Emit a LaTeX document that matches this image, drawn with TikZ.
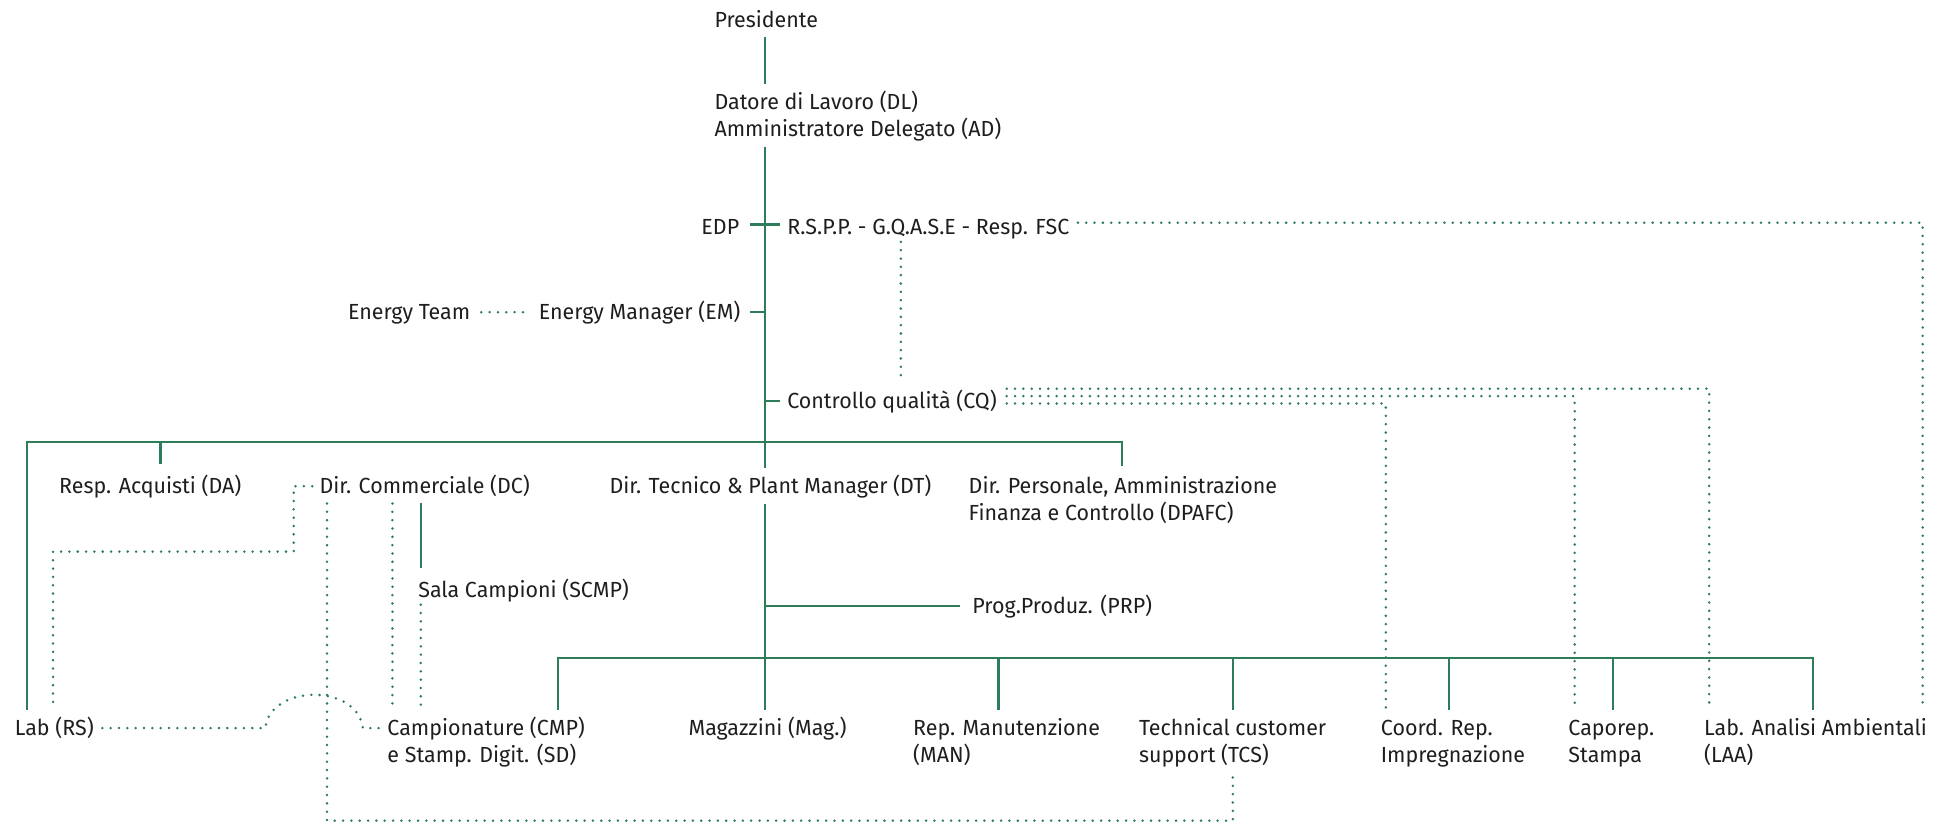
\documentclass[tikz,border=0pt]{standalone}
\usepackage{fontspec}
\setmainfont{Fira Sans}[FakeStretch=0.98]
\usetikzlibrary{calc}
\definecolor{orggreen}{RGB}{46,125,90}
\definecolor{orgtext}{RGB}{30,30,30}

\tikzset{
  unit/.style={anchor=base west, inner sep=0pt, outer sep=0pt, align=left,
    font=\fontsize{12.6}{15.6}\selectfont, text=orgtext},
  orgline/.style={draw=orggreen, line width=1.4pt},
  dotline/.style={draw=orggreen, line width=1.6pt, line cap=round,
    dash pattern=on 0pt off 4.8pt},
}

\begin{document}
\begin{tikzpicture}[x=0.025cm, y=-0.025cm]
\useasboundingbox (0,0) rectangle (1568,668);

% guide coordinates
\coordinate (T) at (620,0);
\coordinate (xQ) at (730,0);
\coordinate (xR) at (1558,0);
\coordinate (xC) at (265,0);
\coordinate (xM) at (318,0);
\coordinate (xS) at (341,0);
\coordinate (xRS) at (43,0);
\coordinate (barW) at (22,358);
\coordinate (barDA) at (130,358);
\coordinate (barE) at (909,358);
\coordinate (botW) at (452,533);
\coordinate (botE) at (1469,533);
\coordinate (dcL) at (238,447);
\coordinate (dcT) at (999,665);
\coordinate (jumpA) at (215,590);
\coordinate (jumpB) at (294,590);
\coordinate (foot) at (0,575);

% units (two-line units sit on their second baseline)
\node[unit] (pres) at (579,22) {Presidente};
\node[unit] (dl) at (579,111) {Datore di Lavoro (DL)\\Amministratore Delegato (AD)};
\node[unit, anchor=base east] (edp) at (599,190) {EDP};
\node[unit] (rspp) at (638,190) {R.S.P.P. - G.Q.A.S.E - Resp. FSC};
\node[unit] (eteam) at (282,259) {Energy Team};
\node[unit, anchor=base east] (em) at (600,259) {Energy Manager (EM)};
\node[unit] (cq) at (638,331) {Controllo qualità (CQ)};
\node[unit] (da) at (48,400) {Resp. Acquisti (DA)};
\node[unit] (dc) at (259,400) {Dir. Commerciale (DC)};
\node[unit] (dt) at (494,400) {Dir. Tecnico \& Plant Manager (DT)};
\node[unit] (dpafc) at (785,422) {Dir. Personale, Amministrazione\\Finanza e Controllo (DPAFC)};
\node[unit] (scmp) at (339,484) {Sala Campioni (SCMP)};
\node[unit] (prp) at (788,497) {Prog.Produz. (PRP)};
\node[unit] (labrs) at (12,596) {Lab (RS)};
\node[unit] (cmp) at (314,618) {Campionature (CMP)\\e Stamp. Digit. (SD)};
\node[unit] (mag) at (558,596) {Magazzini (Mag.)};
\node[unit] (man) at (740,618) {Rep. Manutenzione\\(MAN)};
\node[unit] (tcs) at (923,618) {Technical customer\\support (TCS)};
\node[unit] (coord) at (1119,618) {Coord. Rep.\\Impregnazione};
\node[unit] (capo) at (1271,618) {Caporep.\\Stampa};
\node[unit] (laa) at (1381,618) {Lab. Analisi Ambientali\\(LAA)};

% trunk
\draw[orgline] ($(pres.south -| T)+(0,8)$) -- ($(dl.north -| T)+(0,-6)$);
\draw[orgline] ($(dl.south -| T)+(0,4)$) -- ($(dt.north -| T)+(0,-6)$);
\draw[orgline] ($(dt.south -| T)+(0,5)$) -- (T |- foot);
\draw[orgline] ($(edp.base east)+(9,-8)$) -- ($(rspp.base west)+(-6,-8)$);
\draw[orgline] ($(em.base east)+(8,-6)$) -- ($(em.base east -| T)+(0,-6)$);
\draw[orgline] ($(cq.base west -| T)+(0,-6)$) -- ($(cq.base west)+(-6,-6)$);

% first level
\draw[orgline] (barW |- foot) -- (barW) -- (barE) -- ($(dpafc.north -| barE)+(0,-9)$);
\draw[orgline] (barDA) -- ($(da.north -| barDA)+(0,-9)$);
\draw[orgline] ($(dc.base west -| xS)+(0,8)$) -- ($(scmp.north -| xS)+(0,-9)$);
\draw[orgline] ($(prp.base west -| T)+(0,-6)$) -- ($(prp.base west)+(-10,-6)$);

% second level
\draw[orgline] (botW |- foot) -- (botW) -- (botE) -- (botE |- foot);
\foreach \x in {809, 999, 1174, 1307}
  \draw[orgline] (\x,533) -- (\x,0 |- foot);

% functional links
\draw[dotline] ($(eteam.base east)+(9,-6)$) -- ($(em.base west)+(-7,-6)$);
\draw[dotline] ($(rspp.base east)+(7,-9.5)$) -| (xR |- foot);
\draw[dotline] ($(rspp.base west -| xQ)+(0,6)$) -- ($(cq.base west -| xQ)+(0,-21)$);
\foreach \n/\dy/\dx in {laa/-16/4, capo/-10/5, coord/-4/4}
  \draw[dotline] ($(cq.base east)+(8,\dy)$) -| ($(\n.base west |- foot)+(\dx,0)$);
\draw[dotline] ($(dc.base west)+(-6,-6)$) -| (dcL) -| (xRS |- foot);
\draw[dotline] ($(dc.base west -| xC)+(0,8)$) |- (dcT) -- ($(tcs.south -| dcT)+(0,4)$);
\draw[dotline] ($(dc.base west -| xM)+(0,8)$) -- (xM |- foot);
\draw[dotline] ($(scmp.base west -| xS)+(0,6)$) -- (xS |- foot);
\draw[dotline] ($(labrs.base east)+(7,-6)$) -- (jumpA)
  .. controls (219,554) and (290,554) .. (jumpB) -- ($(cmp.base west)+(-6,-28)$);
\end{tikzpicture}
\end{document}
